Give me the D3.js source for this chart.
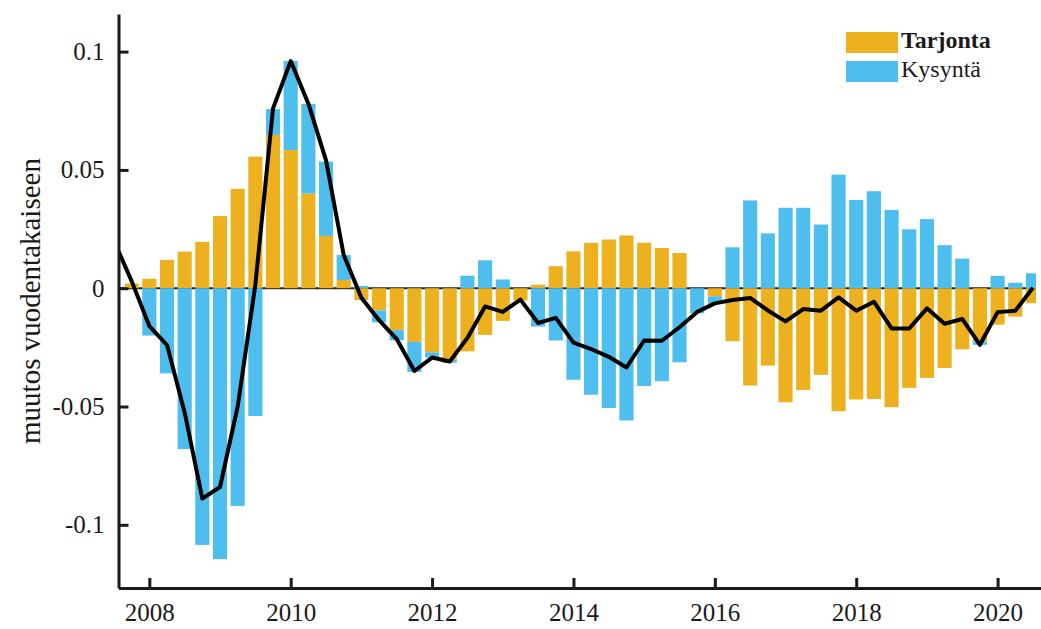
<!DOCTYPE html>
<html>
<head>
  <title>Tarjonta ja kysyntä</title>
  <script src="https://d3js.org/d3.v7.min.js"></script>
  <style>
    body { margin: 0; background: #fff; }
    svg { display: block; font-family: "Liberation Serif", "Times New Roman", serif; }
    .axis path, .axis line { stroke: #1a1a1a; stroke-width: 3px; }
    .axis text { font-size: 25px; fill: #1a1a1a; font-family: "Liberation Serif", serif; }
  </style>
</head>
<body>
  <svg id="chart"></svg>

  <script>
    // quarters (2007Q3 .. 2020Q3)
    const quarters = [
      "2007Q3", "2007Q4",
      "2008Q1", "2008Q2", "2008Q3", "2008Q4",
      "2009Q1", "2009Q2", "2009Q3", "2009Q4",
      "2010Q1", "2010Q2", "2010Q3", "2010Q4",
      "2011Q1", "2011Q2", "2011Q3", "2011Q4",
      "2012Q1", "2012Q2", "2012Q3", "2012Q4",
      "2013Q1", "2013Q2", "2013Q3", "2013Q4",
      "2014Q1", "2014Q2", "2014Q3", "2014Q4",
      "2015Q1", "2015Q2", "2015Q3", "2015Q4",
      "2016Q1", "2016Q2", "2016Q3", "2016Q4",
      "2017Q1", "2017Q2", "2017Q3", "2017Q4",
      "2018Q1", "2018Q2", "2018Q3", "2018Q4",
      "2019Q1", "2019Q2", "2019Q3", "2019Q4",
      "2020Q1", "2020Q2", "2020Q3"
    ];

    // supply contribution
    const tarjonta = [
      0, 0.002,
      0.004, 0.012, 0.0155, 0.0196,
      0.0305, 0.042, 0.0556, 0.0648,
      0.0584, 0.040, 0.0221, 0.0035,
      -0.005, -0.0094, -0.0177, -0.0227,
      -0.0271, -0.0302, -0.0267, -0.0197,
      -0.0138, -0.0052, 0.0015, 0.0093,
      0.0156, 0.0192, 0.0206, 0.0223,
      0.0192, 0.0170, 0.0149, 0,
      -0.0034, -0.0224, -0.0411, -0.0327,
      -0.0482, -0.043, -0.0366, -0.052,
      -0.047, -0.0468, -0.0503, -0.0421,
      -0.0379, -0.0337, -0.0258, -0.0225,
      -0.0154, -0.012, -0.0063
    ];

    // demand contribution
    const kysynta = [
      0, 0,
      -0.020, -0.036, -0.068, -0.1085,
      -0.1145, -0.092, -0.054, 0.0109,
      0.0377, 0.0379, 0.0314, 0.0105,
      0.001, -0.005, -0.0043, -0.0127,
      -0.0022, -0.0013, 0.0053, 0.0118,
      0.0037, 0, -0.0162, -0.0221,
      -0.0387, -0.045, -0.0506, -0.0559,
      -0.0413, -0.0393, -0.0313, -0.0106,
      -0.0032, 0.0173, 0.0371, 0.0232,
      0.034, 0.034, 0.0269, 0.048,
      0.0373, 0.041, 0.0331, 0.0249,
      0.0292, 0.0182, 0.0125, -0.0014,
      0.0052, 0.0023, 0.0063
    ];

    // total change (black line)
    const muutos = [
      0.020, 0.003,
      -0.016, -0.024, -0.0525, -0.0889,
      -0.084, -0.050, 0.0015, 0.076,
      0.096, 0.078, 0.054, 0.014,
      -0.004, -0.0135, -0.0215, -0.035,
      -0.0293, -0.031, -0.021, -0.0077,
      -0.0100, -0.0048, -0.0147, -0.0125,
      -0.023, -0.0257, -0.029, -0.0335,
      -0.0221, -0.0222, -0.0165, -0.010,
      -0.0064, -0.005, -0.0041, -0.0094,
      -0.014, -0.0088, -0.0095, -0.0039,
      -0.0095, -0.0057, -0.017, -0.017,
      -0.0085, -0.015, -0.013, -0.0239,
      -0.0101, -0.0095, 0.0002
    ];

    const yTicks = [0.1, 0.05, 0, -0.05, -0.1];
    const yTickLabels = ["0.1", "0.05", "0", "-0.05", "-0.1"];
    const xTicks = [2008, 2010, 2012, 2014, 2016, 2018, 2020];

    const width = 1041;
    const height = 629;

    // quarter label -> decimal year
    const qt = q => +q.slice(0, 4) + (+q.slice(5) - 1) / 4;

    const svg = d3.select("#chart")
      .attr("width", width)
      .attr("height", height);

    const x = d3.scaleLinear()
      .domain([2007.564, 2020.614])
      .range([118.5, 1041]);

    const y = d3.scaleLinear()
      .domain([-0.1267, 0.1159])
      .range([588, 14]);

    const barW = x(2008.2) - x(2008);

    svg.append("clipPath").attr("id", "plot")
      .append("rect")
      .attr("x", x.range()[0]).attr("y", 14)
      .attr("width", 1036 - x.range()[0]).attr("height", 574);

    const plot = svg.append("g").attr("clip-path", "url(#plot)");

    // zero line under the bars
    plot.append("line")
      .attr("x1", x.range()[0]).attr("x2", 1036)
      .attr("y1", y(0)).attr("y2", y(0))
      .attr("stroke", "#222")
      .attr("stroke-width", 2);

    // stacked bars: positives go up, negatives go down
    const rows = quarters.map((q, i) => {
      const a = tarjonta[i], b = kysynta[i];
      const aBase = 0;
      const bBase = (Math.sign(a) === Math.sign(b)) ? a : 0;
      return { t: qt(q), a, b, aBase, bBase };
    });

    const bar = (sel, base, val, color) => sel
      .append("rect")
      .attr("x", d => x(d.t) - barW / 2)
      .attr("width", barW)
      .attr("y", d => y(Math.max(base(d), base(d) + val(d))))
      .attr("height", d => Math.abs(y(base(d)) - y(base(d) + val(d))))
      .attr("fill", color);

    const g = plot.selectAll("g.q").data(rows).enter().append("g").attr("class", "q");
    bar(g, d => d.aBase, d => d.a, "#EDB120");
    bar(g, d => d.bBase, d => d.b, "#4DBEEE");

    // total line
    const line = d3.line()
      .x((d, i) => x(qt(quarters[i])))
      .y(d => y(d));

    plot.append("path")
      .datum(muutos)
      .attr("d", line)
      .attr("fill", "none")
      .attr("stroke", "#000")
      .attr("stroke-width", 4)
      .attr("stroke-linejoin", "round");

    // axes
    const yAxis = d3.axisLeft(y)
      .tickValues(yTicks)
      .tickFormat((d, i) => yTickLabels[i])
      .tickSize(-10)
      .tickSizeOuter(0)
      .tickPadding(14);

    svg.append("g")
      .attr("class", "axis")
      .attr("transform", `translate(${x.range()[0]},0)`)
      .call(yAxis);

    const xAxis = d3.axisBottom(x)
      .tickValues(xTicks)
      .tickFormat(d3.format("d"))
      .tickSize(-10)
      .tickSizeOuter(0)
      .tickPadding(15);

    svg.append("g")
      .attr("class", "axis")
      .attr("transform", `translate(0,${y.range()[0]})`)
      .call(xAxis);

    // y label
    svg.append("text")
      .attr("transform", "translate(40,301) rotate(-90)")
      .attr("text-anchor", "middle")
      .attr("font-size", 29)
      .attr("fill", "#1a1a1a")
      .text("muutos vuodentakaiseen");

    // legend
    const legend = [
      { name: "Tarjonta", color: "#EDB120", bold: true },
      { name: "Kysyntä", color: "#4DBEEE", bold: false }
    ];
    const lg = svg.append("g");
    lg.selectAll("rect").data(legend).enter().append("rect")
      .attr("x", 846).attr("y", (d, i) => 32 + i * 29)
      .attr("width", 52).attr("height", 21)
      .attr("fill", d => d.color);
    lg.selectAll("text").data(legend).enter().append("text")
      .attr("x", 901).attr("y", (d, i) => 48 + i * 29)
      .attr("font-size", 24)
      .attr("font-weight", d => d.bold ? "bold" : "normal")
      .attr("fill", "#1a1a1a")
      .text(d => d.name);
  </script>
</body>
</html>
